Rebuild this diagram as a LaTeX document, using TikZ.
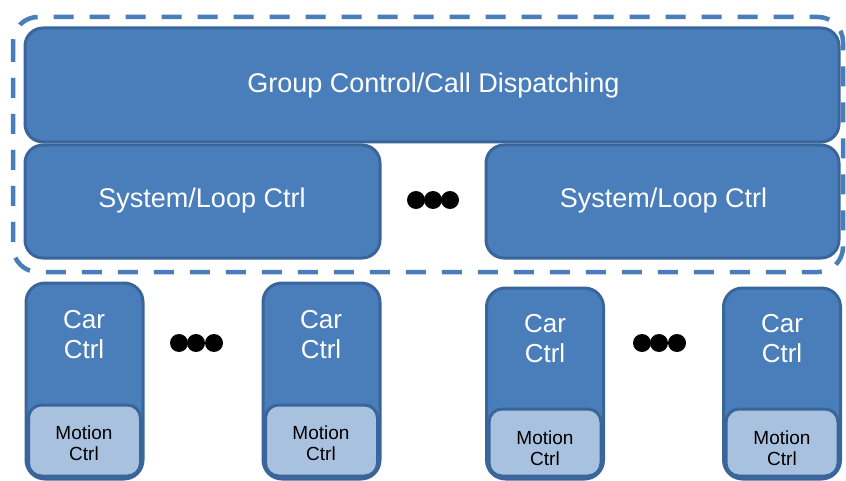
\documentclass[tikz,border=0pt]{standalone}
\usepackage{fontspec}
\setmainfont{Liberation Sans}
\definecolor{boxblue}{HTML}{4A7EBB}
\definecolor{boxedge}{HTML}{3A659A}
\definecolor{lightblue}{HTML}{A8C1DE}
\definecolor{dashblue}{HTML}{4A7EBB}
\tikzset{
  bigbox/.style={draw=boxedge, fill=boxblue, line width=3pt, rounded corners=18pt, rectangle, inner sep=0pt},
  carbox/.style={draw=boxedge, fill=boxblue, line width=3pt, rounded corners=19pt, rectangle, inner sep=0pt, minimum width=117pt},
  motionbox/.style={draw=boxedge, fill=lightblue, line width=3pt, rounded corners=13pt, rectangle, inner sep=0pt, minimum width=112pt},
  bigtext/.style={text=white, font=\fontsize{27}{30}\selectfont, inner sep=0pt},
  cartext/.style={text=white, font=\fontsize{26}{30}\selectfont, align=center, inner sep=0pt},
  motiontext/.style={text=black, font=\fontsize{19}{21.5}\selectfont, align=center, inner sep=0pt},
  blackdot/.style={circle, fill=black, inner sep=0pt, minimum size=18pt},
  groupframe/.style={draw=dashblue, line width=4.5pt, dash pattern=on 20pt off 16pt, rounded corners=25pt}
}
\begin{document}
\begin{tikzpicture}[x=1pt,y=-1pt]
\useasboundingbox (0,0) rectangle (846,481);
\clip (0,0) rectangle (846,481);
\fill[white] (0,0) rectangle (846,481);
% dashed group frame
\draw[groupframe] (13,17) rectangle (843,272);
% top layer
\node[bigbox, minimum width=814pt, minimum height=114pt] (group) at (432,85) {};
\node[bigtext] (grouptext) at (433.5,86) {Group Control/Call Dispatching};
\node[bigbox, minimum width=355pt, minimum height=113pt] (sysA) at (202.5,201.5) {};
\node[bigtext] (sysAtext) at (202,201) {System/Loop Ctrl};
\node[bigbox, minimum width=353pt, minimum height=113pt] (sysB) at (662.5,201.5) {};
\node[bigtext] (sysBtext) at (663.5,201) {System/Loop Ctrl};
% dots
\node[blackdot] (d1) at (416,200) {};
\node[blackdot] (d2) at (433,200) {};
\node[blackdot] (d3) at (450,200) {};
\node[blackdot] (d4) at (179,343) {};
\node[blackdot] (d5) at (196,343) {};
\node[blackdot] (d6) at (214,343) {};
\node[blackdot] (d7) at (642,343) {};
\node[blackdot] (d8) at (659,343) {};
\node[blackdot] (d9) at (677,343) {};
% car boxes
\node[carbox, minimum height=196pt] (car1) at (84.5,381) {};
\node[motionbox, minimum height=71pt] (mot1) at (84.5,440.5) {};
\node[cartext] (car1t) at (84,335) {Car\\Ctrl};
\node[motiontext] (mot1t) at (84,443) {Motion\\Ctrl};

\node[carbox, minimum height=196pt] (car2) at (321.5,381) {};
\node[motionbox, minimum height=71pt] (mot2) at (321.5,440.5) {};
\node[cartext] (car2t) at (321,335) {Car\\Ctrl};
\node[motiontext] (mot2t) at (321,443) {Motion\\Ctrl};

\node[carbox, minimum height=191pt] (car3) at (545,383.5) {};
\node[motionbox, minimum height=67pt] (mot3) at (545,442.5) {};
\node[cartext] (car3t) at (545,339) {Car\\Ctrl};
\node[motiontext] (mot3t) at (545,448) {Motion\\Ctrl};

\node[carbox, minimum height=191pt] (car4) at (782,383.5) {};
\node[motionbox, minimum height=67pt] (mot4) at (782,442.5) {};
\node[cartext] (car4t) at (782,339) {Car\\Ctrl};
\node[motiontext] (mot4t) at (782,448) {Motion\\Ctrl};
\end{tikzpicture}
\end{document}
